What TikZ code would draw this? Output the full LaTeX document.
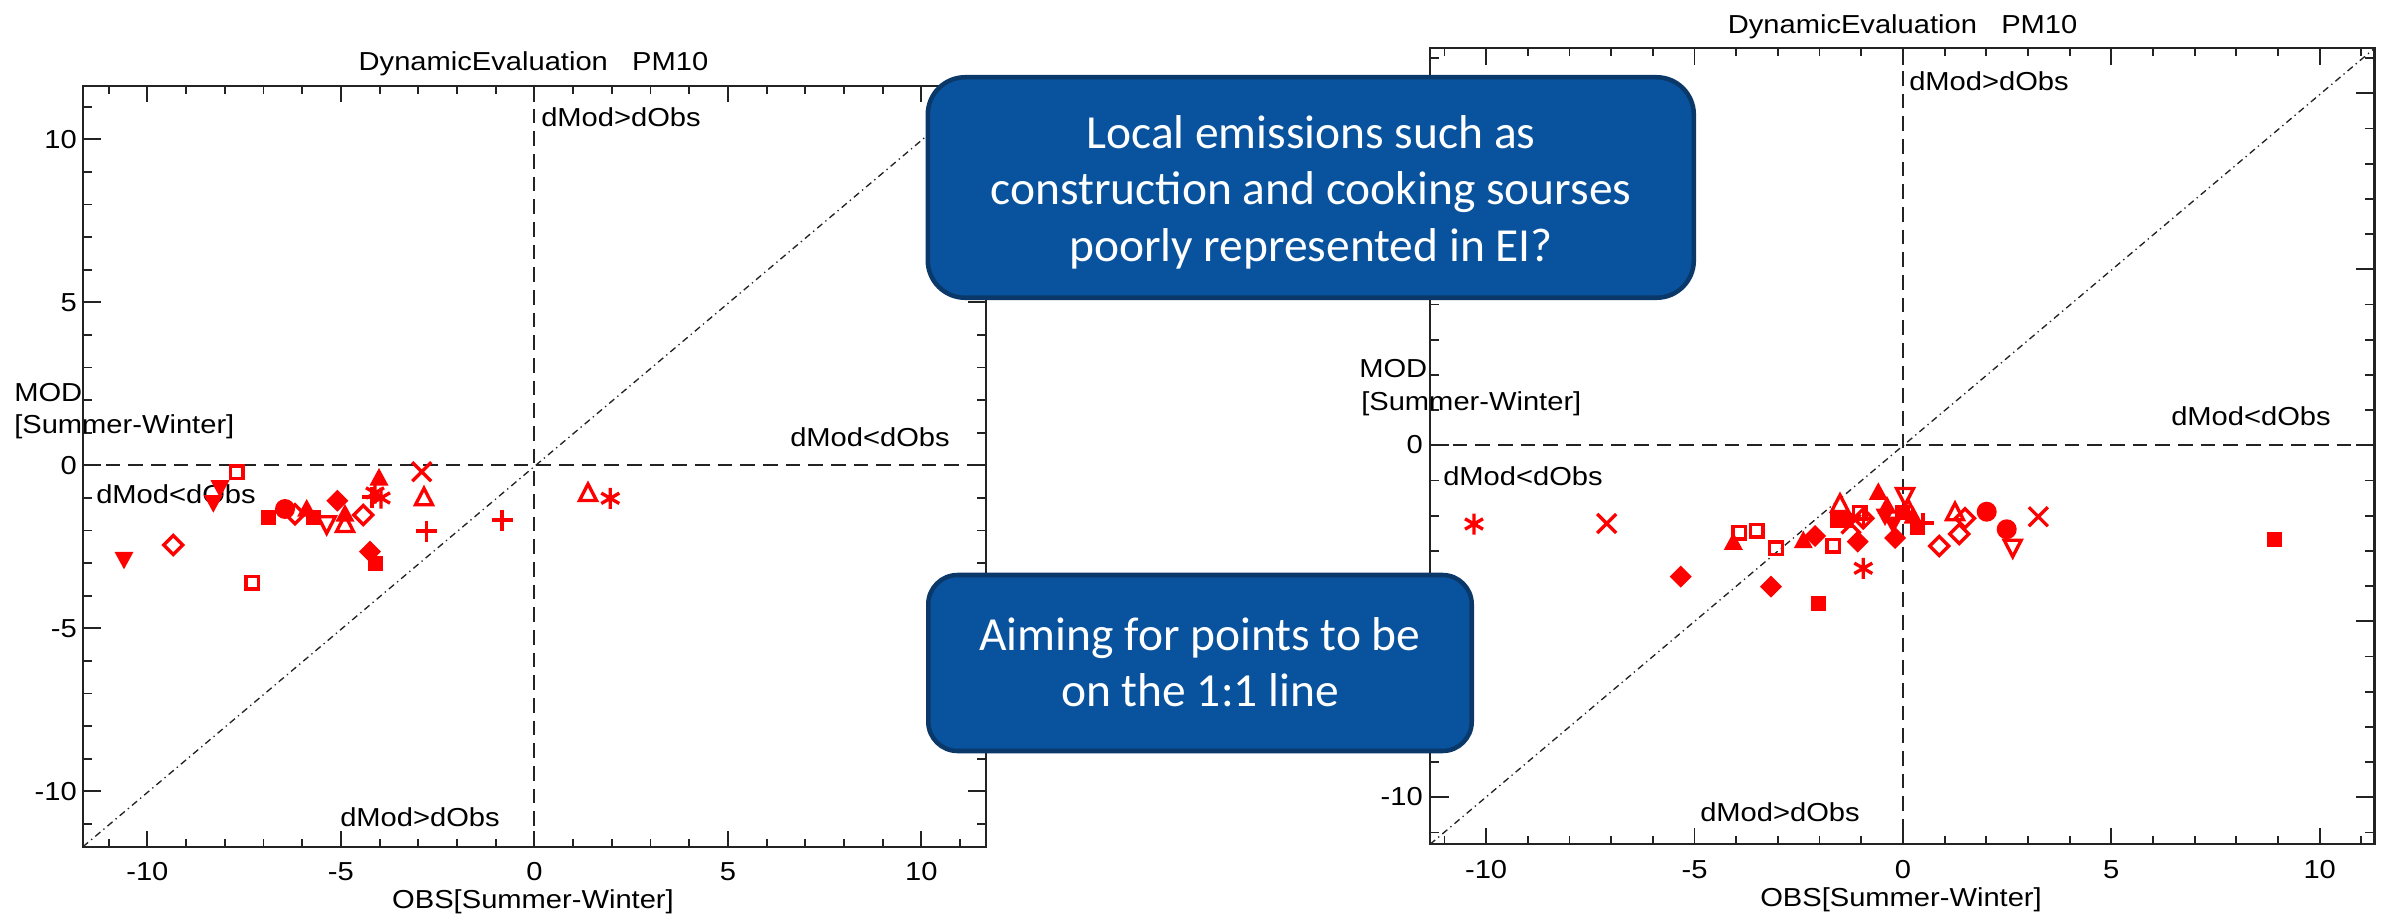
\documentclass[tikz,border=0pt]{standalone}
\usepackage{fontspec}
\setmainfont{Liberation Sans}
\newfontfamily\plotfont[FakeStretch=1.12]{Liberation Sans}
\newfontfamily\boxfont{Carlito}
\definecolor{boxfill}{RGB}{9,83,158}
\definecolor{boxedge}{RGB}{10,56,105}
\definecolor{axcol}{RGB}{35,35,35}
\tikzset{
  mk/.style={red, line width=2.5pt},
  pics/fsq/.style={code={\fill[red] (-7.5,-7.5) rectangle (7.5,7.5);}},
  pics/osq/.style={code={\draw[mk] (-6.2,-6.2) rectangle (6.2,6.2);}},
  pics/ftu/.style={code={\fill[red] (0,-11) -- (9.5,6.5) -- (-9.5,6.5) -- cycle;}},
  pics/otu/.style={code={\draw[mk] (0,-10) -- (8.5,6.5) -- (-8.5,6.5) -- cycle;}},
  pics/ftd/.style={code={\fill[red] (0,11) -- (9.5,-6.5) -- (-9.5,-6.5) -- cycle;}},
  pics/otd/.style={code={\draw[mk] (0,10) -- (8.5,-6.5) -- (-8.5,-6.5) -- cycle;}},
  pics/fdi/.style={code={\fill[red] (0,-11) -- (11,0) -- (0,11) -- (-11,0) -- cycle;}},
  pics/odi/.style={code={\draw[mk] (0,-9.5) -- (9.5,0) -- (0,9.5) -- (-9.5,0) -- cycle;}},
  pics/fci/.style={code={\fill[red] (0,0) circle[radius=10];}},
  pics/xx/.style={code={\draw[mk] (-9.5,-9.5) -- (9.5,9.5) (-9.5,9.5) -- (9.5,-9.5);}},
  pics/pl/.style={code={\draw[mk] (-10.5,0) -- (10.5,0) (0,-10.5) -- (0,10.5);}},
  pics/ast/.style={code={\draw[mk] (0,-10.5) -- (0,10.5) (-9,-5.2) -- (9,5.2) (-9,5.2) -- (9,-5.2);}},
}
% #1 X0 #2 Y0 #3 SX #4 SY #5 L #6 T #7 R #8 B
\newcommand\axesbox[8]{%
  \foreach \i in {-11,...,11}{%
    \pgfmathsetmacro\xx{#1+#3*\i}%
    \pgfmathsetmacro\yy{#2-#4*\i}%
    \pgfmathsetmacro\lx{mod(\i,5)==0 ? 0.0205*(#8-#6) : 0.0103*(#8-#6)}%
    \pgfmathsetmacro\ly{mod(\i,5)==0 ? 0.02*(#7-#5) : 0.01*(#7-#5)}%
    \draw[tk] (\xx,#8) -- ++(0,-\lx) (\xx,#6) -- ++(0,\lx);
    \draw[tk] (#5,\yy) -- ++(\ly,0) (#7,\yy) -- ++(-\ly,0);
  }%
  \draw[zl] (#1,#6) -- (#1,#8);
  \draw[zl] (#5,#2) -- (#7,#2);
  \draw[ol] (#5,#8) -- (#7,#6);
  \draw[frm] (#5,#6) rectangle (#7,#8);
}
\begin{document}
\begin{tikzpicture}[x=0.75pt,y=-0.75pt,
  lab/.style={font=\plotfont\fontsize{19.5}{23}\selectfont, inner sep=0pt, text=black},
  frm/.style={draw=axcol, line width=1.6pt},
  tk/.style={draw=axcol, line width=1.4pt},
  zl/.style={draw=axcol, line width=1.6pt, dash pattern=on 11pt off 6pt},
  ol/.style={draw=axcol, line width=1pt, dash pattern=on 5pt off 3pt on 1pt off 3pt},
  bx/.style={draw=boxedge, fill=boxfill, line width=3.4pt, inner sep=0pt},
  bt/.style={font=\boxfont\fontsize{35.6}{42.5}\selectfont, text=white, inner sep=0pt, anchor=base}
]
\useasboundingbox (0,0) rectangle (2382,916);
\fill[white] (0,0) rectangle (2382,916);

% ---------------- left plot ----------------
\axesbox{534.4}{465.3}{38.7}{32.6}{83}{86}{986}{846.7}
\node[lab, anchor=base] (ltitle) at (533.5,71) {DynamicEvaluation\ \ \ PM10};
\node[lab, anchor=base east] (ly10) at (77,148.6) {10};
\node[lab, anchor=base east] (ly5) at (77,311.6) {5};
\node[lab, anchor=base east] (ly0) at (77,474.6) {0};
\node[lab, anchor=base east] (lym5) at (77,637.6) {-5};
\node[lab, anchor=base east] (lym10) at (77,800.6) {-10};
\node[lab, anchor=base] (lxm10) at (147.4,880) {-10};
\node[lab, anchor=base] (lxm5) at (340.9,880) {-5};
\node[lab, anchor=base] (lx0) at (534.4,880) {0};
\node[lab, anchor=base] (lx5) at (727.9,880) {5};
\node[lab, anchor=base] (lx10) at (921.4,880) {10};
\node[lab, anchor=base] (lxt) at (533,908.5) {OBS[Summer-Winter]};
\node[lab, anchor=base west] (lyt1) at (14,401.7) {MOD};
\node[lab, anchor=base west] (lyt2) at (14,433) {[Summer-Winter]};
\node[lab, anchor=base west] (lq1) at (541,127) {dMod>dObs};
\node[lab, anchor=base west] (lq2) at (790,446.7) {dMod<dObs};
\node[lab, anchor=base west] (lq3) at (96,503.3) {dMod<dObs};
\node[lab, anchor=base west] (lq4) at (340,826) {dMod>dObs};

\pic at (236.7,472.3) {osq};
\pic at (220,486.7) {ftd};
\pic at (213.3,501.7) {ftd};
\pic at (268.3,517.3) {fsq};
\pic at (285,509) {fci};
\pic at (295,514.3) {odi};
\pic at (306.7,510) {ftu};
\pic at (313.3,517.3) {fsq};
\pic at (326.7,523.3) {otd};
\pic at (337.3,500.7) {fdi};
\pic at (345,515) {ftu};
\pic at (345,525) {otu};
\pic at (363.3,515) {odi};
\pic at (379,479) {ftu};
\pic at (375,493) {ast};
\pic at (381,498) {ast};
\pic at (372,497) {pl};
\pic at (421.7,471.7) {xx};
\pic at (424,498.3) {otu};
\pic at (426.7,531) {pl};
\pic at (502,520) {pl};
\pic at (588,494) {otu};
\pic at (610.3,498.3) {ast};
\pic at (173.3,545) {odi};
\pic at (124,558.3) {ftd};
\pic at (370,551.7) {fdi};
\pic at (375,563.3) {fsq};
\pic at (252.3,582.7) {osq};

% ---------------- right plot ----------------
\axesbox{1902.9}{445.3}{41.68}{35.2}{1430}{48.3}{2374.5}{844.3}
\node[lab, anchor=base] (rtitle) at (1902.6,33.3) {DynamicEvaluation\ \ \ PM10};
\node[lab, anchor=base east] (ry0) at (1423,453) {0};
\node[lab, anchor=base east] (rym10) at (1423,805.8) {-10};
\node[lab, anchor=base] (rxm10) at (1486.1,878.3) {-10};
\node[lab, anchor=base] (rxm5) at (1694.5,878.3) {-5};
\node[lab, anchor=base] (rx0) at (1902.9,878.3) {0};
\node[lab, anchor=base] (rx5) at (2111.3,878.3) {5};
\node[lab, anchor=base] (rx10) at (2319.7,878.3) {10};
\node[lab, anchor=base] (rxt) at (1901,906.7) {OBS[Summer-Winter]};
\node[lab, anchor=base west] (ryt1) at (1359,378) {MOD};
\node[lab, anchor=base west] (ryt2) at (1361,410) {[Summer-Winter]};
\node[lab, anchor=base west] (rq1) at (1909,90.7) {dMod>dObs};
\node[lab, anchor=base west] (rq2) at (2171,425) {dMod<dObs};
\node[lab, anchor=base west] (rq3) at (1443,485) {dMod<dObs};
\node[lab, anchor=base west] (rq4) at (1700,821.7) {dMod>dObs};

\pic at (1474,524) {ast};
\pic at (1606.7,523.5) {xx};
\pic at (1680.7,576.7) {fdi};
\pic at (1733.3,543.3) {ftu};
\pic at (1739.3,532.7) {osq};
\pic at (1756.7,530.7) {osq};
\pic at (1776,548.3) {osq};
\pic at (1771,586.7) {fdi};
\pic at (1818.3,603.3) {fsq};
\pic at (1803.3,541.7) {ftu};
\pic at (1815,536) {fdi};
\pic at (1833.3,545.7) {osq};
\pic at (1857.7,541.7) {fdi};
\pic at (1863.3,568.3) {ast};
\pic at (1840,505) {otu};
\pic at (1837,520) {fsq};
\pic at (1845,520) {fsq};
\pic at (1860,513) {osq};
\pic at (1863.3,518.3) {odi};
\pic at (1863.3,518.3) {pl};
\pic at (1851,524) {xx};
\pic at (1878.3,493.3) {ftu};
\pic at (1905,495) {otd};
\pic at (1887,507) {ftu};
\pic at (1885,515) {ftd};
\pic at (1893,523) {ftd};
\pic at (1902,512) {fsq};
\pic at (1908,510) {otu};
\pic at (1913,517) {ftu};
\pic at (1917,527) {fsq};
\pic at (1923,523) {pl};
\pic at (1895,538) {fdi};
\pic at (1955,513.3) {otu};
\pic at (1965,518.3) {odi};
\pic at (1959.3,534) {odi};
\pic at (1939.3,546) {odi};
\pic at (1986.7,511.7) {fci};
\pic at (2006.7,529.3) {fci};
\pic at (2012.7,546.7) {otd};
\pic at (2038.3,516.7) {xx};
\pic at (2274.3,539) {fsq};

% ---------------- call-out boxes ----------------
\node[bx, rounded corners=28pt, minimum width=574.5pt, minimum height=165.4pt] (box1) at (1310.8,187.5) {};
\node[bt] (box1a) at (1311,148.3) {Local emissions such as};
\node[bt] (box1b) at (1311,205) {construction and cooking sourses};
\node[bt] (box1c) at (1311,261.7) {poorly represented in EI?};

\node[bx, rounded corners=22pt, minimum width=407.6pt, minimum height=132pt] (box2) at (1200,663) {};
\node[bt] (box2a) at (1200,650) {Aiming for points to be};
\node[bt] (box2b) at (1200,706.7) {on the 1:1 line};
\end{tikzpicture}
\end{document}
